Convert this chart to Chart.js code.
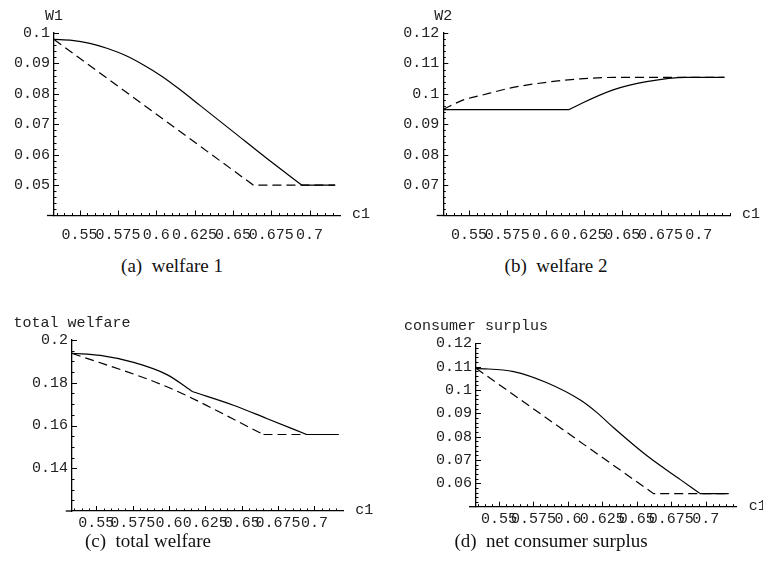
<!DOCTYPE html>
<html>
<head>
<meta charset="utf-8">
<script src="https://cdn.jsdelivr.net/npm/chart.js@4.4.0/dist/chart.umd.min.js"></script>
<style>
  html, body { margin: 0; padding: 0; background: #fff; }
  #page { position: relative; width: 763px; height: 580px; overflow: hidden; }
  .panel { position: absolute; height: 250px; }
  .cap { position: absolute; font-family: "Liberation Serif", serif; font-size: 19px; color: #111;
         transform: translate(-50%, -50%); white-space: nowrap; }
</style>
</head>
<body>
<div id="page">
  <div class="panel" style="left:0;top:0;width:380px"><canvas id="chartA"></canvas></div>
  <div class="panel" style="left:380px;top:0;width:383px"><canvas id="chartB"></canvas></div>
  <div class="panel" style="left:0;top:290px;width:380px"><canvas id="chartC"></canvas></div>
  <div class="panel" style="left:380px;top:290px;width:383px"><canvas id="chartD"></canvas></div>
  <div class="cap" style="left:172px;top:266px">(a)&nbsp; welfare 1</div>
  <div class="cap" style="left:556px;top:266px">(b)&nbsp; welfare 2</div>
  <div class="cap" style="left:148px;top:541px">(c)&nbsp; total welfare</div>
  <div class="cap" style="left:551px;top:541px">(d)&nbsp; net consumer surplus</div>
</div>
<script>
// c1 runs from 0.5333 to 0.7167 in every panel
const c1Start = 0.5333;
const xTicks = [0.55, 0.575, 0.6, 0.625, 0.65, 0.675, 0.7];
const xTickLabels = ['0.55', '0.575', '0.6', '0.625', '0.65', '0.675', '0.7'];

// (a) welfare 1
const w1CurveC1 = [0.5333, 0.545, 0.5567, 0.5683, 0.58, 0.5917, 0.6033, 0.615, 0.6285, 0.6503, 0.672, 0.6949];
const w1Curve   = [0.0979, 0.0976, 0.0966, 0.0949, 0.0926, 0.0895, 0.0859, 0.0816, 0.0762, 0.0675, 0.0588, 0.0500];
const w1FlatC1  = [0.6949, 0.7167];
const w1Flat    = [0.0500, 0.0500];
const w1DashC1  = [0.5333, 0.6633, 0.7167];
const w1Dash    = [0.0979, 0.0500, 0.0500];
const w1Ticks   = [0.05, 0.06, 0.07, 0.08, 0.09, 0.1];
const w1TickLabels = ['0.05', '0.06', '0.07', '0.08', '0.09', '0.1'];

// (b) welfare 2
const w2FlatC1  = [0.5333, 0.6154];
const w2Flat    = [0.0948, 0.0948];
const w2RiseC1  = [0.6154, 0.6224, 0.6441, 0.6659, 0.692, 0.7167];
const w2Rise    = [0.0948, 0.0966, 0.1013, 0.1040, 0.1054, 0.1054];
const w2DashC1  = [0.5333, 0.5464, 0.5572, 0.5789, 0.6007, 0.6224, 0.6441, 0.6659, 0.7167];
const w2Dash    = [0.0949, 0.0980, 0.0994, 0.1021, 0.1038, 0.1049, 0.1054, 0.1054, 0.1054];
const w2Ticks   = [0.07, 0.08, 0.09, 0.1, 0.11, 0.12];
const w2TickLabels = ['0.07', '0.08', '0.09', '0.1', '0.11', '0.12'];

// (c) total welfare
const twCurveC1 = [0.5333, 0.5528, 0.5757, 0.5986, 0.6164];
const twCurve   = [0.1938, 0.1928, 0.1895, 0.1838, 0.1758];
const twSlopeC1 = [0.6164, 0.6443, 0.6672, 0.6947];
const twSlope   = [0.1758, 0.1695, 0.1633, 0.1558];
const twFlatC1  = [0.6947, 0.7167];
const twFlat    = [0.1558, 0.1558];
const twDashC1  = [0.5333, 0.5986, 0.665];
const twDash    = [0.1938, 0.1781, 0.1558];
const twDashFlatC1 = [0.665, 0.7167];
const twDashFlat   = [0.1558, 0.1558];
const twTicks   = [0.14, 0.16, 0.18, 0.2];
const twTickLabels = ['0.14', '0.16', '0.18', '0.2'];

// (d) net consumer surplus
const csCurveC1 = [0.5333, 0.5606, 0.5848, 0.6090, 0.6211, 0.6332, 0.6574, 0.6816, 0.6956];
const csCurve   = [0.1093, 0.1079, 0.1031, 0.0957, 0.0903, 0.0838, 0.0718, 0.0616, 0.0558];
const csFlatC1  = [0.6956, 0.7167];
const csFlat    = [0.0556, 0.0556];
const csDashC1  = [0.5333, 0.6622, 0.7167];
const csDash    = [0.1093, 0.0556, 0.0556];
const csTicks   = [0.06, 0.07, 0.08, 0.09, 0.1, 0.11, 0.12];
const csTickLabels = ['0.06', '0.07', '0.08', '0.09', '0.1', '0.11', '0.12'];

const monoFont = {family: '"Liberation Mono", "DejaVu Sans Mono", monospace', size: 15};

// Mathematica style ticks (inward), the axis stub left of the y axis, and the axis names
const axisDecor = {
  id: 'axisDecor',
  afterDraw(chart, args, opts) {
    const {ctx, chartArea, scales: {x, y}} = chart;
    const x0 = chartArea.left;
    const y0 = chartArea.bottom;
    ctx.save();
    ctx.strokeStyle = '#000';
    ctx.lineWidth = 1.3;
    ctx.beginPath();
    ctx.moveTo(x0 - opts.stub, y0);
    ctx.lineTo(x0, y0);
    ctx.stroke();
    ctx.lineWidth = 1;
    ctx.beginPath();
    for (let k = Math.ceil(x.min / 0.005); k * 0.005 <= x.max + 1e-9; k++) {
      const px = Math.round(x.getPixelForValue(k * 0.005)) + 0.5;
      const len = k % 5 === 0 ? 5 : 2.5;
      ctx.moveTo(px, y0);
      ctx.lineTo(px, y0 - len);
    }
    const n = Math.round(opts.major / opts.minor);
    for (let k = Math.ceil(y.min / opts.minor + 1e-6); k * opts.minor <= y.max + 1e-9; k++) {
      const py = Math.round(y.getPixelForValue(k * opts.minor)) + 0.5;
      const len = k % n === 0 ? 5 : 2.5;
      ctx.moveTo(x0, py);
      ctx.lineTo(x0 + len, py);
    }
    ctx.stroke();
    ctx.fillStyle = '#222';
    ctx.font = '15px "Liberation Mono", monospace';
    ctx.textBaseline = 'middle';
    ctx.textAlign = 'center';
    ctx.fillText(opts.yTitle, x0, chartArea.top - 17);
    ctx.textAlign = 'left';
    ctx.fillText('c1', chartArea.right + 12, y0 - 1);
    ctx.restore();
  }
};

function line(xs, ys, dashed, smooth) {
  return {
    data: xs.map((v, i) => ({x: v, y: ys[i]})),
    showLine: true,
    borderColor: '#000',
    borderWidth: 1.2,
    borderDash: dashed ? [9, 5] : [],
    pointRadius: 0,
    fill: false,
    tension: smooth ? 0.4 : 0,
    cubicInterpolationMode: smooth ? 'monotone' : 'default'
  };
}

function makePanel(id, p) {
  new Chart(document.getElementById(id), {
    type: 'scatter',
    data: {datasets: p.datasets},
    options: {
      responsive: true,
      maintainAspectRatio: false,
      animation: false,
      events: [],
      layout: {padding: {left: 0, right: p.right, top: p.top, bottom: 0}},
      plugins: {
        legend: {display: false},
        tooltip: {enabled: false},
        axisDecor: {yTitle: p.yTitle, major: p.yMajor, minor: p.yMinor, stub: p.stub}
      },
      scales: {
        x: {
          type: 'linear',
          position: 'bottom',
          min: c1Start,
          max: p.xMax,
          grid: {display: false, drawTicks: false},
          border: {display: true, color: '#000', width: 1.3},
          afterBuildTicks: s => { s.ticks = xTicks.map(v => ({value: v})); },
          afterFit: s => { s.height = p.xHeight; },
          ticks: {
            autoSkip: false, maxRotation: 0, minRotation: 0,
            padding: p.xPad, color: '#222', font: monoFont,
            callback: (v, i) => xTickLabels[i]
          }
        },
        y: {
          type: 'linear',
          position: 'left',
          min: p.yMin,
          max: p.yMax,
          grid: {display: false, drawTicks: false},
          border: {display: true, color: '#000', width: 1.3},
          afterBuildTicks: s => { s.ticks = p.yTicks.map(v => ({value: v})); },
          afterFit: s => { s.width = p.yWidth; },
          ticks: {
            autoSkip: false, padding: 4, color: '#222', font: monoFont,
            callback: (v, i) => p.yTickLabels[i]
          }
        }
      }
    },
    plugins: [axisDecor]
  });
}

makePanel('chartA', {
  datasets: [
    line(w1CurveC1, w1Curve, false, true),
    line(w1FlatC1, w1Flat, false, false),
    line(w1DashC1, w1Dash, true, false)
  ],
  yWidth: 54, xHeight: 34.5, right: 40, top: 33, stub: 7,
  xMax: 0.71986, xPad: 11,
  yMin: 0.04, yMax: 0.1, yMajor: 0.01, yMinor: 0.002,
  yTicks: w1Ticks, yTickLabels: w1TickLabels, yTitle: 'W1'
});

makePanel('chartB', {
  datasets: [
    line(w2FlatC1, w2Flat, false, false),
    line(w2RiseC1, w2Rise, false, true),
    line(w2DashC1, w2Dash, true, true)
  ],
  yWidth: 63.3, xHeight: 34.5, right: 33, top: 33, stub: 6.6,
  xMax: 0.72032, xPad: 11,
  yMin: 0.06, yMax: 0.12, yMajor: 0.01, yMinor: 0.002,
  yTicks: w2Ticks, yTickLabels: w2TickLabels, yTitle: 'W2'
});

makePanel('chartC', {
  datasets: [
    line(twCurveC1, twCurve, false, true),
    line(twSlopeC1, twSlope, false, true),
    line(twFlatC1, twFlat, false, false),
    line(twDashC1, twDash, true, true),
    line(twDashFlatC1, twDashFlat, true, false)
  ],
  yWidth: 72, xHeight: 29, right: 36.7, top: 50, stub: 6.3,
  xMax: 0.71989, xPad: 3,
  yMin: 0.12, yMax: 0.2, yMajor: 0.02, yMinor: 0.005,
  yTicks: twTicks, yTickLabels: twTickLabels, yTitle: 'total welfare'
});

makePanel('chartD', {
  datasets: [
    line(csCurveC1, csCurve, false, true),
    line(csFlatC1, csFlat, false, false),
    line(csDashC1, csDash, true, false)
  ],
  yWidth: 96, xHeight: 33.3, right: 26.3, top: 53.3, stub: 7,
  xMax: 0.72249, xPad: 3,
  yMin: 0.05, yMax: 0.12, yMajor: 0.01, yMinor: 0.002,
  yTicks: csTicks, yTickLabels: csTickLabels, yTitle: 'consumer surplus'
});
</script>
</body>
</html>
